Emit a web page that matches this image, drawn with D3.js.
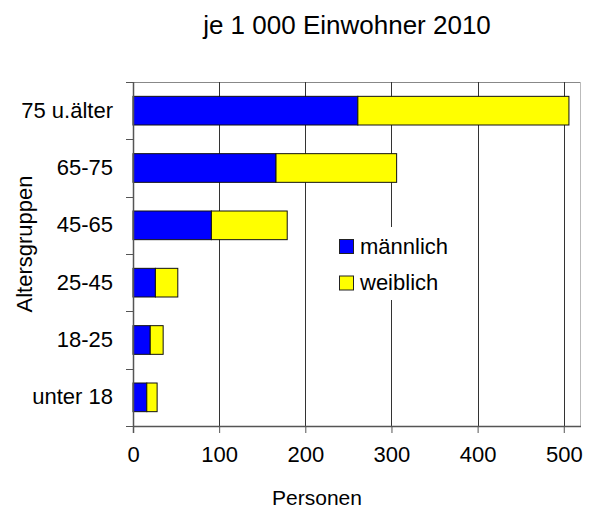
<!DOCTYPE html>
<html>
<head>
<meta charset="utf-8">
<script src="https://cdn.jsdelivr.net/npm/d3@7"></script>
<style>
  body { margin: 0; background: #fff; }
  text { font-family: "Liberation Sans", Arial, sans-serif; fill: #000; }
</style>
</head>
<body>
<div id="chart"></div>
<script>
// data
const categories = ["75 u.älter", "65-75", "45-65", "25-45", "18-25", "unter 18"];
const maennlich = [261, 166, 91, 26, 20, 16];
const weiblich = [245, 140, 88, 26, 15, 12];
const seriesNames = ["männlich", "weiblich"];
const colors = ["#0000ff", "#ffff00"];
const xTicks = [0, 100, 200, 300, 400, 500];

const config = {
    width: 591,
    height: 510,
    margin: { top: 82, right: 10, bottom: 84, left: 133 }
};
config.plotW = 581 - config.margin.left;
config.plotH = 426 - config.margin.top;

const svg = d3.select("#chart")
    .append("svg")
    .attr("width", config.width)
    .attr("height", config.height);

const g = svg.append("g")
    .attr("transform", "translate(" + config.margin.left + "," + config.margin.top + ")");

const xScale = d3.scaleLinear()
    .domain([0, 520])
    .range([0, config.plotW]);

const yScale = d3.scaleBand()
    .domain(categories)
    .range([0, config.plotH])
    .paddingInner(0.5)
    .paddingOuter(0.25);

// frame (top + right)
g.append("line")
    .attr("x1", 0).attr("x2", config.plotW)
    .attr("y1", 0.5).attr("y2", 0.5)
    .style("stroke", "#888");
g.append("line")
    .attr("x1", config.plotW - 0.5).attr("x2", config.plotW - 0.5)
    .attr("y1", 0).attr("y2", config.plotH)
    .style("stroke", "#bbb");

// vertical gridlines
g.selectAll(".grid")
    .data(xTicks.slice(1))
    .enter().append("line")
    .attr("class", "grid")
    .attr("x1", d => Math.round(xScale(d)) + 0.5)
    .attr("x2", d => Math.round(xScale(d)) + 0.5)
    .attr("y1", 0).attr("y2", config.plotH)
    .style("stroke", "#333")
    .style("stroke-width", 1);

// stacked bars
const rows = categories.map((c, i) => ({ cat: c, m: maennlich[i], w: weiblich[i] }));
const stack = d3.stack().keys(["m", "w"])(rows);

stack.forEach((layer, k) => {
    g.selectAll(".bar" + k)
        .data(layer)
        .enter().append("rect")
        .attr("x", d => xScale(d[0]))
        .attr("y", d => yScale(d.data.cat))
        .attr("width", d => xScale(d[1]) - xScale(d[0]))
        .attr("height", yScale.bandwidth())
        .style("fill", colors[k])
        .style("stroke", "#111")
        .style("stroke-width", 1);
});

// axes
const bottomAxis = d3.axisBottom(xScale)
    .tickValues(xTicks)
    .tickSize(7)
    .tickPadding(13);

const xAxisG = g.append("g")
    .attr("transform", "translate(0," + config.plotH + ")")
    .call(bottomAxis);
xAxisG.select(".domain").attr("d", "M0,0.5H" + config.plotW).style("stroke", "#555").style("stroke-width", 1.5);
xAxisG.selectAll(".tick line").style("stroke", "#555");
xAxisG.selectAll(".tick text").style("font-size", "22px").attr("dy", "0.71em");

// y axis: ticks between the categories
const bounds = d3.range(categories.length + 1).map(i => i * config.plotH / categories.length);
const yAxisG = g.append("g");
yAxisG.append("line")
    .attr("x1", 0.5).attr("x2", 0.5)
    .attr("y1", 0).attr("y2", config.plotH + 7)
    .style("stroke", "#555").style("stroke-width", 1.5);
yAxisG.selectAll(".ytick")
    .data(bounds)
    .enter().append("line")
    .attr("x1", -7).attr("x2", 0)
    .attr("y1", d => Math.round(d) + 0.5).attr("y2", d => Math.round(d) + 0.5)
    .style("stroke", "#555");
yAxisG.selectAll(".ylabel")
    .data(categories)
    .enter().append("text")
    .attr("x", -20)
    .attr("y", d => yScale(d) + yScale.bandwidth() / 2 + 7)
    .attr("text-anchor", "end")
    .style("font-size", "22px")
    .text(d => d);

// legend
const legend = svg.append("g");
legend.append("rect")
    .attr("x", 333).attr("y", 227)
    .attr("width", 130).attr("height", 73)
    .style("fill", "#fff");
seriesNames.forEach((name, i) => {
    legend.append("rect")
        .attr("x", 339.5).attr("y", 239.5 + i * 36.5)
        .attr("width", 14).attr("height", 14)
        .style("fill", colors[i])
        .style("stroke", "#222");
    legend.append("text")
        .attr("x", 360).attr("y", 254 + i * 36)
        .style("font-size", "22px")
        .text(name);
});

// titles
svg.append("text")
    .attr("x", 347).attr("y", 34)
    .attr("text-anchor", "middle")
    .style("font-size", "26px")
    .text("je 1 000 Einwohner 2010");

svg.append("text")
    .attr("x", 317).attr("y", 505)
    .attr("text-anchor", "middle")
    .style("font-size", "21px")
    .text("Personen");

svg.append("text")
    .attr("transform", "translate(32,244)rotate(-90)")
    .attr("text-anchor", "middle")
    .style("font-size", "22px")
    .text("Altersgruppen");
</script>
</body>
</html>
